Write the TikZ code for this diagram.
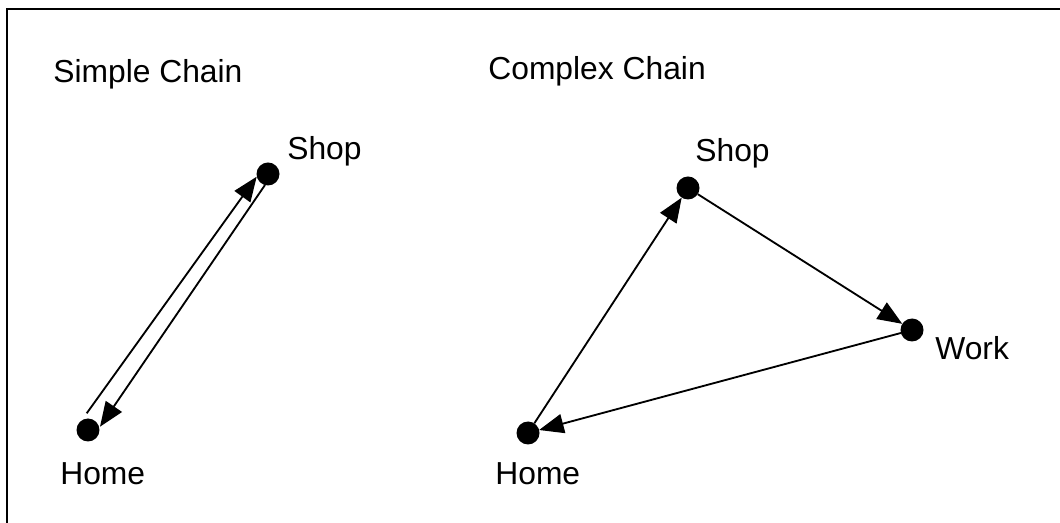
\documentclass[tikz,border=0pt]{standalone}
\usepackage{fontspec}
\setmainfont{Liberation Sans}
\usetikzlibrary{arrows.meta,calc}
\begin{document}
\begin{tikzpicture}[x=0.02cm,y=0.02cm,
  dot/.style={circle,fill=black,draw=none,minimum size=0.46cm,inner sep=0pt,outer sep=0pt},
  lbl/.style={anchor=base west,inner sep=0pt,font=\fontsize{18.1}{22}\selectfont},
  arr/.style={line width=1.05pt,-{Triangle[length=14pt,width=11pt]}},
  framestyle/.style={line width=1.4pt,line cap=rect}]
\useasboundingbox (0,0) rectangle (1060,523);
% frame (top and left edges only)
\coordinate (ftr) at (1062,514);
\coordinate (ftl) at (7,514);
\coordinate (fbl) at (7,-2);
\draw[framestyle] (ftr) -- (ftl) -- (fbl);
% titles
\node[lbl] (t1) at (53,440) {Simple Chain};
\node[lbl] (t2) at (488,443) {Complex Chain};
% simple chain
\node[dot] (h1) at (88,93) {};
\node[dot] (s1) at (268,349) {};
\node[lbl] (lh1) at (60,38) {Home};
\node[lbl] (ls1) at (287,363) {Shop};
\draw[arr] ($(h1)+(-1.3,16.7)$) -- ($(s1)+(-11.3,-2.7)$);
\draw[arr] ($(s1)+(-3,-11)$) -- ($(h1)+(12,3.3)$);
% complex chain
\node[dot] (h2) at (528,90) {};
\node[dot] (s2) at (688,335) {};
\node[dot] (w2) at (912,193) {};
\node[lbl] (lh2) at (495,38) {Home};
\node[lbl] (ls2) at (695,361) {Shop};
\node[lbl] (lw2) at (935,163) {Work};
\draw[arr] (h2) -- (s2);
\draw[arr] (s2) -- (w2);
\draw[arr] (w2) -- (h2);
\end{tikzpicture}
\end{document}
